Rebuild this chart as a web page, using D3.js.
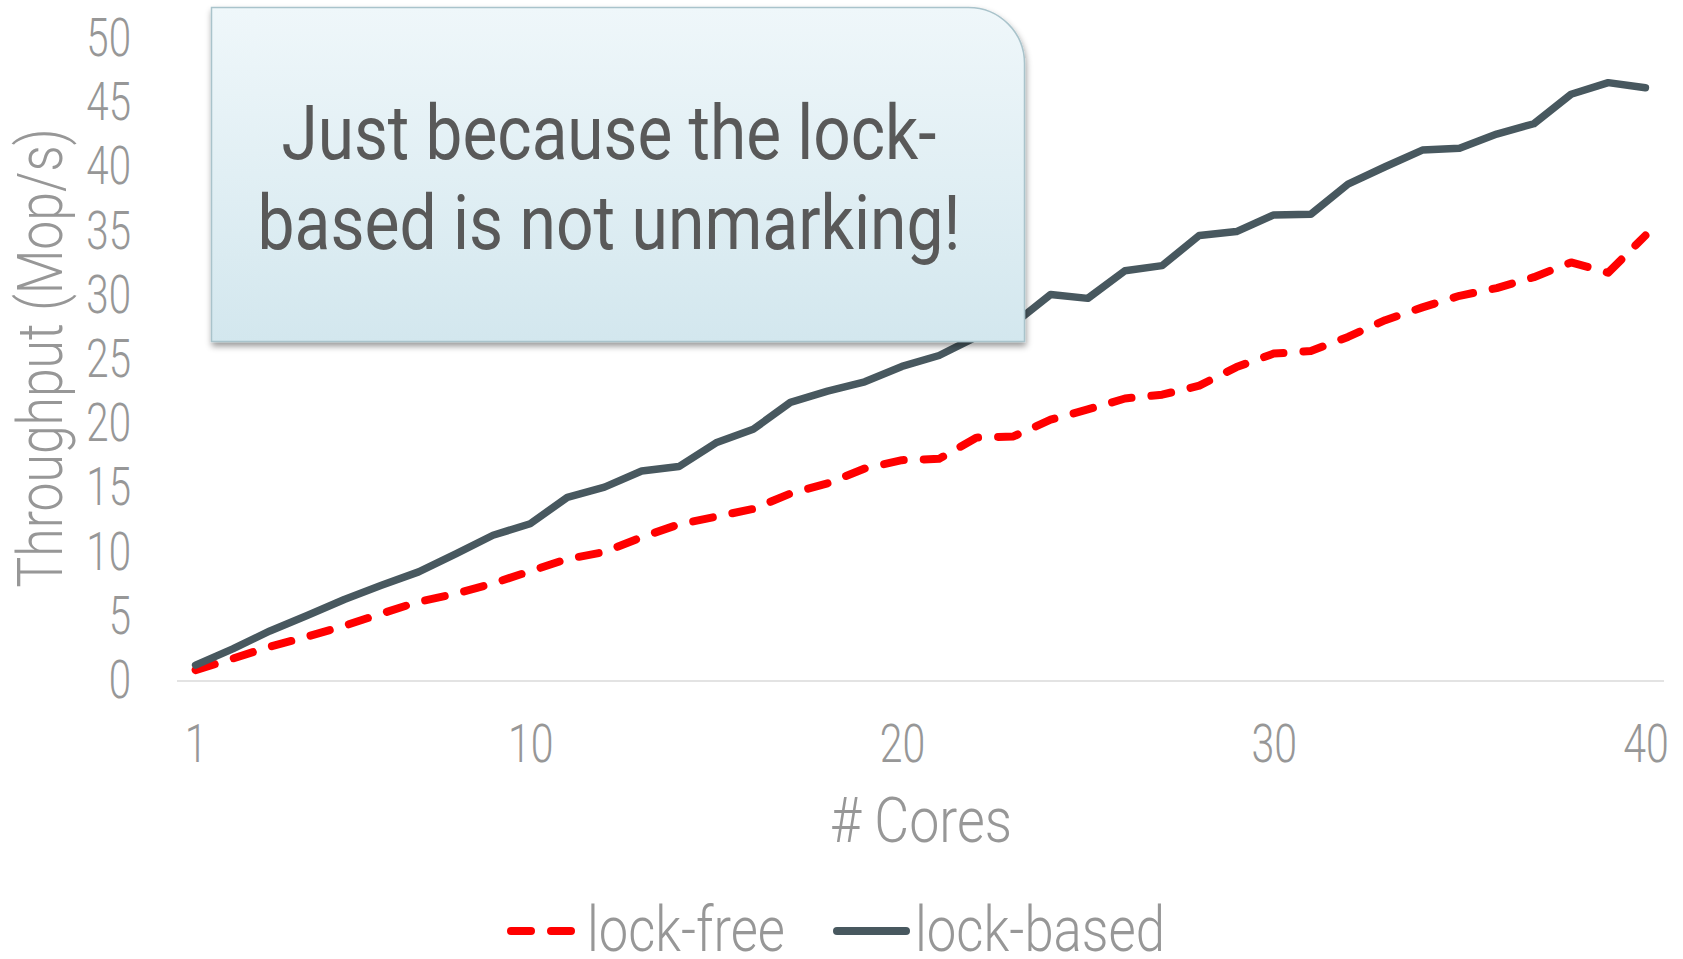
<!DOCTYPE html>
<html>
<head>
<meta charset="utf-8">
<title>Throughput vs cores</title>
<script src="https://cdn.jsdelivr.net/npm/d3@7"></script>
<style>
  html, body { margin: 0; padding: 0; background: #ffffff; }
  svg { display: block; }
  text { font-family: Roboto, "Open Sans", sans-serif; }
</style>
</head>
<body>
<svg id="chart" width="1683" height="959"></svg>
<script>
// Measured throughput (Mop/s) per number of cores
const cores = [1, 2, 3, 4, 5, 6, 7, 8, 9, 10, 11, 12, 13, 14, 15, 16, 17, 18, 19, 20,
               21, 22, 23, 24, 25, 26, 27, 28, 29, 30, 31, 32, 33, 34, 35, 36, 37, 38, 39, 40];
const lockFree = [0.85, 1.75, 2.67, 3.45, 4.3, 5.25, 6.17, 6.8, 7.6, 8.55,
                  9.5, 10.05, 11.2, 12.2, 12.8, 13.4, 14.6, 15.4, 16.55, 17.2,
                  17.3, 18.95, 19.05, 20.35, 21.15, 22.0, 22.3, 23.0, 24.45, 25.5,
                  25.7, 26.8, 28.1, 29.1, 30.0, 30.6, 31.45, 32.6, 31.8, 34.7];
const lockBased = [1.24, 2.5, 3.9, 5.1, 6.35, 7.45, 8.5, 9.9, 11.35, 12.25,
                   14.3, 15.1, 16.35, 16.7, 18.55, 19.6, 21.7, 22.57, 23.3, 24.5,
                   25.35, 26.8, 27.8, 30.1, 29.8, 31.95, 32.35, 34.7, 35.0, 36.3,
                   36.35, 38.7, 40.05, 41.35, 41.5, 42.6, 43.4, 45.7, 46.6, 46.2];
const xTickLabels = [1, 10, 20, 30, 40];
const yTickLabels = [0, 5, 10, 15, 20, 25, 30, 35, 40, 45, 50];
const seriesNames = ["lock-free", "lock-based"];
const calloutLines = ["Just because the lock-", "based is not unmarking!"];

const svg = d3.select("#chart");
const labelGray = "#979797";
const colFree = "#ff0000";
const colBased = "#48585f";

// squeeze a text element horizontally to mimic a condensed face
function condense(sel, k) {
  sel.each(function () {
    const w = this.getComputedTextLength();
    this.setAttribute("textLength", (w * k).toFixed(1));
    this.setAttribute("lengthAdjust", "spacingAndGlyphs");
  });
}
function fitWidth(sel, w) {
  sel.attr("textLength", w).attr("lengthAdjust", "spacingAndGlyphs");
}

const x = d3.scalePoint().domain(cores).range([177, 1664]).padding(0.5);
const y = d3.scaleLinear().domain([0, 50]).range([681, 39]);

// baseline gridline
svg.append("line")
  .attr("x1", 177).attr("x2", 1664)
  .attr("y1", y(0)).attr("y2", y(0))
  .attr("stroke", "#e3e3e3").attr("stroke-width", 2);

// y axis
const yAxis = svg.append("g")
  .attr("transform", "translate(131,0)")
  .call(d3.axisLeft(y).tickValues(yTickLabels).tickSize(0).tickPadding(0));
yAxis.select(".domain").remove();
yAxis.selectAll("text")
  .attr("font-size", 53).attr("font-weight", 300)
  .attr("fill", labelGray).attr("dy", "0.31em")
  .call(condense, 0.76);

// x axis
const xAxis = svg.append("g")
  .attr("transform", "translate(0,724)")
  .call(d3.axisBottom(x).tickValues(xTickLabels).tickSize(0).tickPadding(0));
xAxis.select(".domain").remove();
xAxis.selectAll("text")
  .attr("font-size", 54).attr("font-weight", 300)
  .attr("fill", labelGray).attr("dy", "0.71em")
  .call(condense, 0.76);

// axis titles
svg.append("text")
  .attr("x", 921).attr("y", 842)
  .attr("text-anchor", "middle")
  .attr("font-size", 63).attr("font-weight", 300).attr("fill", labelGray)
  .text("# Cores")
  .call(fitWidth, 182);

svg.append("text")
  .attr("transform", "translate(62,358) rotate(-90)")
  .attr("text-anchor", "middle")
  .attr("font-size", 63).attr("font-weight", 300).attr("fill", labelGray)
  .text("Throughput (Mop/s)")
  .call(fitWidth, 459);

// series lines
const line = d3.line()
  .x((d, i) => x(cores[i]))
  .y(d => y(d));

svg.append("path")
  .datum(lockFree)
  .attr("d", line)
  .attr("fill", "none")
  .attr("stroke", colFree).attr("stroke-width", 8)
  .attr("stroke-dasharray", "20,20")
  .attr("stroke-linecap", "round").attr("stroke-linejoin", "round");

svg.append("path")
  .datum(lockBased)
  .attr("d", line)
  .attr("fill", "none")
  .attr("stroke", colBased).attr("stroke-width", 7.5)
  .attr("stroke-linecap", "round").attr("stroke-linejoin", "round");

// legend
const legend = svg.append("g");
legend.append("line")
  .attr("x1", 511).attr("x2", 571).attr("y1", 931).attr("y2", 931)
  .attr("stroke", colFree).attr("stroke-width", 8)
  .attr("stroke-dasharray", "20,20").attr("stroke-linecap", "round");
legend.append("text")
  .attr("x", 587).attr("y", 951)
  .attr("font-size", 63).attr("font-weight", 300).attr("fill", labelGray)
  .text(seriesNames[0])
  .call(fitWidth, 198);
legend.append("line")
  .attr("x1", 837).attr("x2", 906).attr("y1", 931).attr("y2", 931)
  .attr("stroke", colBased).attr("stroke-width", 8)
  .attr("stroke-linecap", "round");
legend.append("text")
  .attr("x", 915).attr("y", 951)
  .attr("font-size", 63).attr("font-weight", 300).attr("fill", labelGray)
  .text(seriesNames[1])
  .call(fitWidth, 250);

// callout box
const defs = svg.append("defs");
const grad = defs.append("linearGradient")
  .attr("id", "boxFill").attr("x1", 0).attr("y1", 0).attr("x2", 0).attr("y2", 1);
grad.append("stop").attr("offset", "0%").attr("stop-color", "#eff7fa");
grad.append("stop").attr("offset", "100%").attr("stop-color", "#d3e7ee");
const shadow = defs.append("filter")
  .attr("id", "boxShadow").attr("x", "-5%").attr("y", "-5%")
  .attr("width", "115%").attr("height", "120%");
shadow.append("feDropShadow")
  .attr("dx", 1).attr("dy", 4).attr("stdDeviation", 3)
  .attr("flood-color", "#000").attr("flood-opacity", 0.4);

const bx0 = 211.5, by0 = 7.5, bx1 = 1024.5, by1 = 341.5, br = 56;
const boxPath = d3.path();
boxPath.moveTo(bx0, by0);
boxPath.lineTo(bx1 - br, by0);
boxPath.arcTo(bx1, by0, bx1, by0 + br, br);
boxPath.lineTo(bx1, by1);
boxPath.lineTo(bx0, by1);
boxPath.closePath();

svg.append("path")
  .attr("d", boxPath.toString())
  .attr("fill", "url(#boxFill)")
  .attr("stroke", "#a9c3cb").attr("stroke-width", 1.5)
  .attr("filter", "url(#boxShadow)");

const callout = svg.append("g").attr("fill", "#595959")
  .attr("font-size", 76).attr("text-anchor", "middle");
callout.append("text").attr("x", 609).attr("y", 159).text(calloutLines[0]).call(fitWidth, 655);
callout.append("text").attr("x", 609).attr("y", 249).text(calloutLines[1]).call(fitWidth, 703);
</script>
</body>
</html>
